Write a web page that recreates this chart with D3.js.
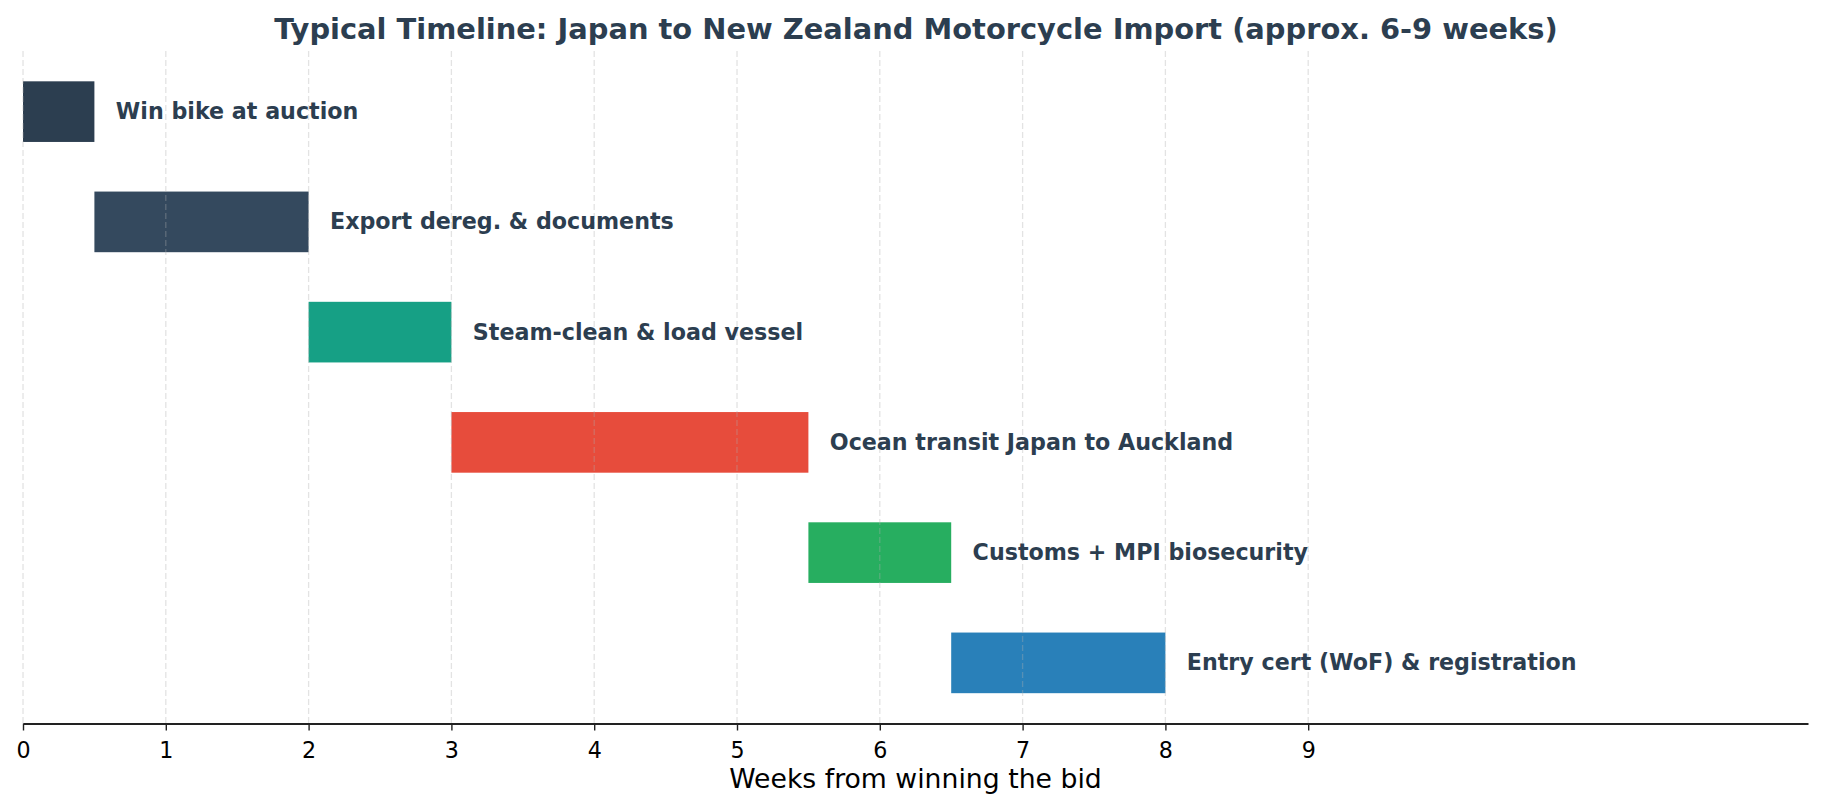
<!DOCTYPE html>
<html><head><meta charset="utf-8">
<script src="https://cdn.jsdelivr.net/npm/d3@7"></script>
<style>html,body{margin:0;padding:0;background:#fff}svg{display:block}</style>
</head><body>
<script>
const tasks = ["Win bike at auction","Export dereg. & documents","Steam-clean & load vessel","Ocean transit Japan to Auckland","Customs + MPI biosecurity","Entry cert (WoF) & registration"];
const starts = [0, 0.5, 2, 3, 5.5, 6.5];
const durations = [0.5, 1.5, 1, 2.5, 1, 1.5];
const colors = ["#2c3e50","#34495e","#16a085","#e74c3c","#27ae60","#2980b9"];
const tickValues = [0,1,2,3,4,5,6,7,8,9];
const xMax = 12.5;
const title = "Typical Timeline: Japan to New Zealand Motorcycle Import (approx. 6-9 weeks)";
const xLabel = "Weeks from winning the bid";

const W = 1824, H = 810;
const m = {left: 23, right: 16, top: 51, bottom: 86.5};
const svg = d3.select("body").append("svg").attr("width", W).attr("height", H);
const x = d3.scaleLinear().domain([0, xMax]).range([m.left, W - m.right]);
const y = d3.scaleLinear().domain([-0.55, 5.55]).range([m.top, H - m.bottom]);
const barH = y(0.55) - y(0);

const g = svg.append("g");
g.selectAll("rect.bar").data(tasks).join("rect")
  .attr("class","bar")
  .attr("x", (d,i) => x(starts[i]))
  .attr("y", (d,i) => y(i) - barH/2)
  .attr("width", (d,i) => x(starts[i] + durations[i]) - x(starts[i]))
  .attr("height", barH)
  .attr("fill", (d,i) => colors[i]);

// grid
g.selectAll("line.grid").data(tickValues).join("line")
  .attr("class","grid")
  .attr("x1", d => x(d)).attr("x2", d => x(d))
  .attr("y1", m.top).attr("y2", H - m.bottom)
  .attr("stroke", "#b0b0b0").attr("stroke-opacity", 0.35)
  .attr("stroke-width", 1.3).attr("stroke-dasharray", "6,3");

g.selectAll("text.lab").data(tasks).join("text")
  .attr("class","lab")
  .attr("x", (d,i) => x(starts[i] + durations[i] + 0.15))
  .attr("y", (d,i) => y(i) + 7.5)
  .attr("font-family","DejaVu Sans").attr("font-weight","bold")
  .attr("font-size", 22.2).attr("fill", "#2c3e50")
  .text(d => d);

const ax = svg.append("g").attr("transform", `translate(0,${H - m.bottom})`)
  .call(d3.axisBottom(x).tickValues(tickValues).tickFormat(d3.format("d")).tickSize(7).tickSizeOuter(0));
ax.select(".domain").attr("stroke","#222").attr("stroke-width",1.8);
ax.selectAll(".tick line").attr("stroke","#222").attr("stroke-width",1.4);
ax.selectAll(".tick text").attr("font-family","DejaVu Sans").attr("font-size",22.2).attr("fill","#000")
  .attr("y", 34).attr("dy", 0);

svg.append("text").attr("x", x(0) + (x(xMax)-x(0))/2).attr("y", 788)
  .attr("text-anchor","middle").attr("font-family","DejaVu Sans").attr("font-size",26.7).attr("fill","#000")
  .text(xLabel);

svg.append("text").attr("x", 916).attr("y", 39)
  .attr("text-anchor","middle").attr("font-family","DejaVu Sans").attr("font-weight","bold")
  .attr("font-size",28.9).attr("fill","#2c3e50").text(title);
</script>
</body></html>
